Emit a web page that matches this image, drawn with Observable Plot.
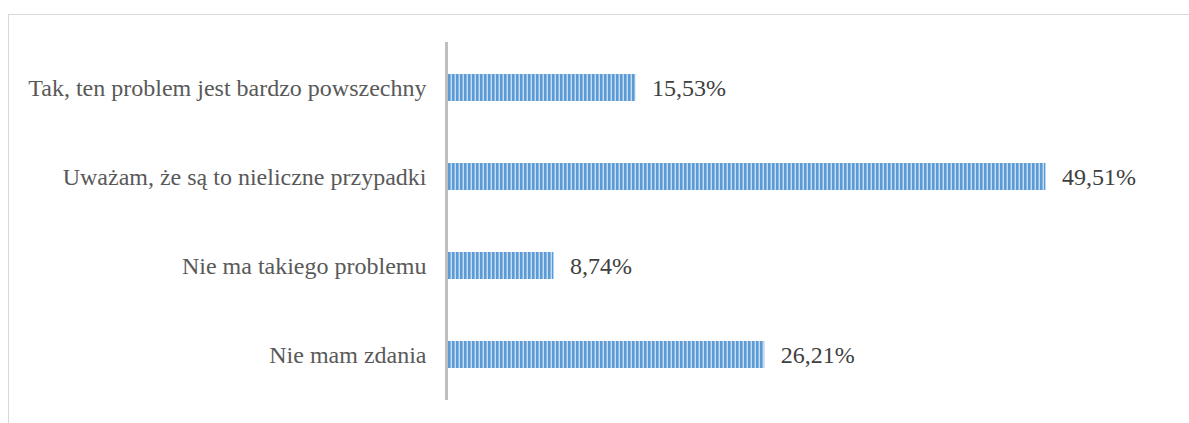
<!DOCTYPE html>
<html>
<head>
<meta charset="utf-8">
<script src="https://cdn.jsdelivr.net/npm/d3@7"></script>
<script src="https://cdn.jsdelivr.net/npm/@observablehq/plot@0.6"></script>
<style>
  html, body { margin: 0; padding: 0; background: #fff; }
  #wrap { position: relative; width: 1189px; height: 423px; overflow: hidden; }
  #frame { position: absolute; left: 8px; top: 14px; width: 1300px; height: 500px;
           border-top: 1.5px solid #d9d9d9; border-left: 1.5px solid #d9d9d9; }
  #chart { position: absolute; left: 0; top: 0; }
  #chart svg, #chart svg text { font-family: "Liberation Serif", "Times New Roman", serif !important; }
</style>
</head>
<body>
<div id="wrap"><div id="frame"></div><div id="chart"></div></div>
<script>
const categories = [
  "Tak, ten problem jest bardzo powszechny",
  "Uważam, że są to nieliczne przypadki",
  "Nie ma takiego problemu",
  "Nie mam zdania"
];
const values = [15.53, 49.51, 8.74, 26.21];

const data = categories.map((c, i) => ({category: c, value: values[i]}));
const fmt = v => v.toFixed(2).replace(".", ",") + "%";
const serif = "Liberation Serif";

const plot = Plot.plot({
  width: 1189,
  height: 423,
  marginLeft: 448,
  marginRight: 17,
  marginTop: 42,
  marginBottom: 23,
  style: {fontFamily: serif, fontSize: "24px", color: "#595959", background: "transparent"},
  x: {domain: [0, 60], axis: null},
  y: {domain: categories, paddingInner: 0.7, paddingOuter: 0.35, label: null},
  marks: [
    Plot.ruleX([0], {dx: -2, stroke: "#bfbfbf", strokeWidth: 3}),
    Plot.barX(data, {x: "value", y: "category", fill: "url(#stripes)"}),
    Plot.text(data, {x: "value", y: "category", text: d => fmt(d.value), textAnchor: "start", dx: 16, fill: "#404040", fontSize: 24, fontFamily: serif}),
    Plot.axisY({tickSize: 0, tickPadding: 22, fontSize: 24, fontFamily: serif, fill: "#595959"})
  ]
});

const ns = "http://www.w3.org/2000/svg";
const defs = document.createElementNS(ns, "defs");
const pat = document.createElementNS(ns, "pattern");
pat.setAttribute("id", "stripes");
pat.setAttribute("patternUnits", "userSpaceOnUse");
pat.setAttribute("x", "448");
pat.setAttribute("width", "4");
pat.setAttribute("height", "4");
[["0", "2", "#5b9bd5"], ["2", "1", "#8db8e3"], ["3", "1", "#c4dbf1"]].forEach(([x, w, c]) => {
  const r = document.createElementNS(ns, "rect");
  r.setAttribute("x", x); r.setAttribute("y", "0");
  r.setAttribute("width", w); r.setAttribute("height", "4");
  r.setAttribute("fill", c);
  pat.appendChild(r);
});
defs.appendChild(pat);
plot.insertBefore(defs, plot.firstChild);
document.getElementById("chart").appendChild(plot);
</script>
</body>
</html>
